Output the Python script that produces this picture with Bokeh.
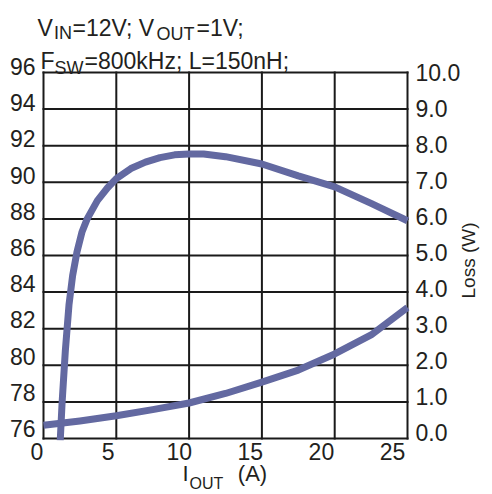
import math

from bokeh.plotting import figure
from bokeh.models import (Range1d, LinearAxis, Grid, FixedTicker, Label,
                          PrintfTickFormatter)
from bokeh.embed import file_html
from bokeh.resources import INLINE

# Efficiency (%) versus output current (A)
iout_eff = [1.15, 1.28, 1.5, 1.75, 2.0, 2.3, 2.65, 3.0, 3.7, 4.4, 5.0, 6.0,
            7.0, 8.0, 9.0, 10.0, 11.0, 12.5, 15.0, 17.5, 20.0, 22.5, 25.0]
efficiency = [75.9, 78.0, 80.8, 83.3, 84.9, 86.2, 87.3, 88.0, 89.0, 89.7, 90.2,
              90.75, 91.1, 91.35, 91.5, 91.55, 91.55, 91.4, 91.0, 90.35, 89.75,
              88.85, 87.9]

# Power loss (W) versus output current (A)
iout_loss = [0, 2.5, 5, 7.5, 10, 12.5, 15, 17.5, 20, 22.5, 25]
loss = [0.36, 0.48, 0.62, 0.79, 0.97, 1.23, 1.54, 1.87, 2.31, 2.83, 3.58]

# Axis ticks
current_ticks = [0, 5, 10, 15, 20, 25]
eff_ticks = [76, 78, 80, 82, 84, 86, 88, 90, 92, 94, 96]
loss_ticks = [0, 1, 2, 3, 4, 5, 6, 7, 8, 9, 10]

TEXT = "#231f20"
CURVE = "#6369a1"
GRID = "#1a1a1a"
FONT = "Liberation Sans"

W, H = 492, 494
# frame (pixels); it reaches the top so the conditions sit inside it
FL, FR, FT, FB = 36, 409, 0, 440
# pixel positions of the boxed grid: current 0..25, efficiency 76..96
BX0, BX1, BY0, BY1 = 43, 407, 438, 72

sx = (BX1 - BX0) / 25.0
sy = (BY0 - BY1) / 20.0
x_start = 0 - (BX0 - FL) / sx
x_end = 25 + (FR - BX1) / sx
y_start = 76 - (FB - BY0) / sy
y_end = 96 + (BY1 - FT) / sy

p = figure(width=W, height=H,
           x_range=Range1d(x_start, x_end), y_range=Range1d(y_start, y_end),
           x_axis_location=None, y_axis_location=None,
           toolbar_location=None, output_backend="svg",
           min_border_left=FL, min_border_right=W - FR,
           min_border_top=FT, min_border_bottom=H - FB,
           outline_line_color=None,
           background_fill_color="white", border_fill_color="white")
p.center = [r for r in p.center if not isinstance(r, Grid)]

p.extra_y_ranges = {
    # loss is drawn on its own scale: 0..10 W spans the same box as 76..96 %
    "loss": Range1d((y_start - 76) / 2.0, (y_end - 76) / 2.0),
    # tick label scales
    "eff_lab": Range1d(76 - (FB - 428) / 18.1, 96 + (66 - FT) / 18.1),
    "loss_lab": Range1d(0 - (FB - 432) / 36.0, 10 + (72 - FT) / 36.0),
    # pixel scale for text placement
    "py": Range1d(FB, FT),
}
p.extra_x_ranges = {
    "i_lab": Range1d(0 - 0.5 / 14.22, 25 + (FR - 392) / 14.22),
    "px": Range1d(FL, FR),
}

# boxed grid, bounded to the data area
n_x, n_y = len(current_ticks), len(eff_ticks)
p.segment(x0=current_ticks, y0=[eff_ticks[0]] * n_x,
          x1=current_ticks, y1=[eff_ticks[-1]] * n_x,
          line_color=GRID, line_width=2, line_cap="square")
p.segment(x0=[current_ticks[0]] * n_y, y0=eff_ticks,
          x1=[current_ticks[-1]] * n_y, y1=eff_ticks,
          line_color=GRID, line_width=2, line_cap="square")

p.line(iout_eff, efficiency, line_color=CURVE, line_width=7,
       line_join="round", line_cap="butt")
p.line(iout_loss, loss, y_range_name="loss", line_color=CURVE, line_width=7,
       line_join="round", line_cap="butt")


def style_axis(ax, standoff, size="23px"):
    ax.axis_line_color = None
    ax.major_tick_line_color = None
    ax.minor_tick_line_color = None
    ax.major_tick_out = 0
    ax.major_tick_in = 0
    ax.minor_tick_out = 0
    ax.minor_tick_in = 0
    ax.major_label_standoff = standoff
    ax.major_label_text_font = FONT
    ax.major_label_text_font_size = size
    ax.major_label_text_color = TEXT


ax_b = LinearAxis(x_range_name="i_lab", ticker=FixedTicker(ticks=current_ticks))
style_axis(ax_b, 2)
p.add_layout(ax_b, "below")

# output-current axis title: "I" and "(A)", then the lowered "OUT" subscript
ax_b_title = LinearAxis(x_range_name="px", ticker=FixedTicker(ticks=[185, 252]),
                        major_label_overrides={185: "I", 252: "(A)"})
style_axis(ax_b_title, -2, "22px")
p.add_layout(ax_b_title, "below")

ax_b_sub = LinearAxis(x_range_name="px", ticker=FixedTicker(ticks=[206]),
                      major_label_overrides={206: "OUT"})
style_axis(ax_b_sub, -14, "16px")
p.add_layout(ax_b_sub, "below")

ax_l = LinearAxis(y_range_name="eff_lab", ticker=FixedTicker(ticks=eff_ticks),
                  formatter=PrintfTickFormatter(format="%d"))
style_axis(ax_l, 1)
p.add_layout(ax_l, "left")

ax_r = LinearAxis(y_range_name="loss_lab", ticker=FixedTicker(ticks=loss_ticks),
                  formatter=PrintfTickFormatter(format="%.1f"))
style_axis(ax_r, 6)
p.add_layout(ax_r, "right")

# axis title for the loss scale, set beside the loss tick labels
ax_r_title = LinearAxis(y_range_name="py", ticker=FixedTicker(ticks=[298]),
                        major_label_overrides={298: "Loss (W)"},
                        major_label_orientation=math.pi / 2)
style_axis(ax_r_title, 5, "19px")
p.add_layout(ax_r_title, "right")


def put(text, px, py, size):
    p.add_layout(Label(x=px, y=py, x_range_name="px", y_range_name="py",
                       text=text, text_font=FONT, text_font_size=f"{size}px",
                       text_color=TEXT, text_baseline="alphabetic"))


# Operating conditions, with subscripts
put("V", 37, 27, 23)
put("IN", 53.5, 32, 18)
put("=12V; V", 72, 27, 23)
put("OUT", 156, 33, 18)
put("=1V;", 196, 27, 23)
put("F", 40, 60, 23)
put("SW", 54, 67, 18)
put("=800kHz; L=150nH;", 84, 60, 23)

open("out.html", "w").write(file_html(p, INLINE))
